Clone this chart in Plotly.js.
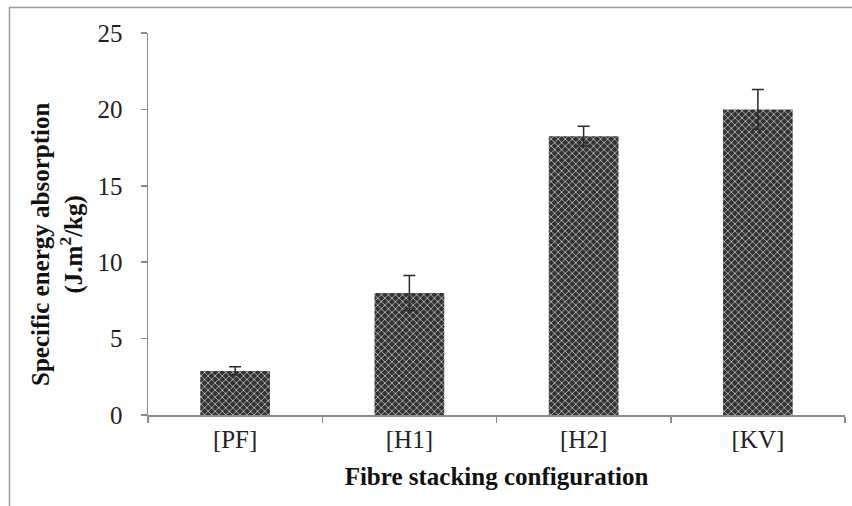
<!DOCTYPE html>
<html>
<head>
<meta charset="utf-8">
<script src="https://cdn.plot.ly/plotly-3.0.1.min.js"></script>
<style>
html,body{margin:0;padding:0;background:#fff;}
#chart{width:852px;height:506px;}
</style>
</head>
<body>
<div id="chart"></div>
<script>
const categories = ['[PF]', '[H1]', '[H2]', '[KV]'];
const values = [2.88, 7.98, 18.25, 20.0];
const errors = [0.27, 1.15, 0.65, 1.3];
const yTicks = [0, 5, 10, 15, 20, 25];

const serif = 'Liberation Serif, Times New Roman, serif';

const trace = {
  type: 'bar',
  x: categories,
  y: values,
  width: 0.4,
  marker: {
    color: '#333333',
    line: {width: 0},
    pattern: {shape: 'x', fgcolor: '#e0e0e0', bgcolor: '#333333', size: 5, solidity: 0.25}
  },
  error_y: {type: 'data', array: errors, visible: true, color: '#2a2a2a', thickness: 1.5, width: 6},
  hoverinfo: 'none'
};

const L = 148, R = 7, T = 33, B = 91;
const W = 852 - L - R, H = 506 - T - B;
const px = v => (v - L) / W;
const py = v => 1 - (v - T) / H;

const layout = {
  width: 852, height: 506,
  margin: {l: L, r: R, t: T, b: B, pad: 0},
  paper_bgcolor: '#fff', plot_bgcolor: '#fff',
  showlegend: false,
  bargap: 0.6,
  font: {family: serif, size: 22, color: '#222'},
  xaxis: {
    type: 'category',
    showline: true, linecolor: '#8c8c8c', linewidth: 1.5,
    ticks: 'outside', ticklen: 6, tickcolor: '#8c8c8c', tickwidth: 1.5,
    tickson: 'boundaries',
    showgrid: false, zeroline: false,
    tickfont: {family: serif, size: 25, color: '#222'},
    ticklabelstandoff: 1,
    title: {text: '<b>Fibre stacking configuration</b>', font: {family: serif, size: 25, color: '#111'}, standoff: 16}
  },
  yaxis: {
    range: [0, 25],
    tickvals: yTicks,
    ticktext: yTicks.map(String),
    showline: true, linecolor: '#8c8c8c', linewidth: 1.5,
    ticks: 'outside', ticklen: 6, tickcolor: '#8c8c8c', tickwidth: 1.5,
    showgrid: false, zeroline: false,
    tickfont: {family: serif, size: 25, color: '#222'},
    ticklabelstandoff: 13
  },
  annotations: [{
    xref: 'paper', yref: 'paper',
    x: px(57), y: py(245),
    xanchor: 'center', yanchor: 'middle',
    textangle: -90,
    showarrow: false,
    text: '<b>Specific energy absorption<br>(J.m<sup>2</sup>/kg)</b>',
    font: {family: serif, size: 25, color: '#111'}
  }],
  shapes: [{
    type: 'path', xref: 'paper', yref: 'paper',
    path: `M ${px(9.5)} ${py(520)} L ${px(9.5)} ${py(7.5)} L ${px(870)} ${py(7.5)}`,
    line: {color: '#9a9a9a', width: 1.5}
  }]
};

Plotly.newPlot('chart', [trace], layout, {displayModeBar: false, staticPlot: true});
</script>
</body>
</html>
